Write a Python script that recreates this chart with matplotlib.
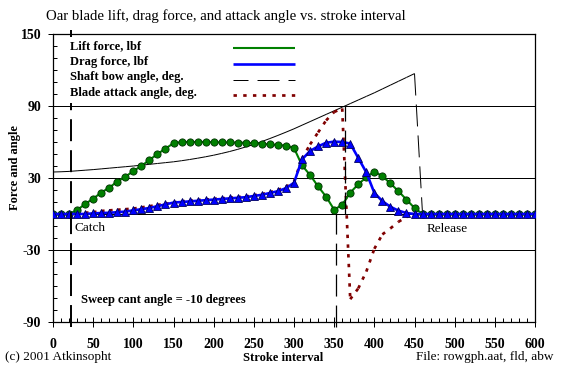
import numpy as np
import matplotlib
matplotlib.use("Agg")
import matplotlib.pyplot as plt
from matplotlib.collections import LineCollection
from matplotlib.lines import Line2D
from matplotlib.patches import Rectangle
from matplotlib.ticker import MultipleLocator, FixedLocator

plt.rcParams['font.family'] = ['Liberation Serif', 'DejaVu Serif']
plt.rcParams['lines.scale_dashes'] = False
plt.rcParams['axes.unicode_minus'] = False

# stroke interval, every 10 units
stroke = np.arange(0, 610, 10)

lift = [0, 0, 0, 3.3, 8.3, 12.8, 17.8, 22, 27, 31,
        35.8, 40, 45, 50, 54.5, 59, 60, 60, 60, 60,
        59.8, 59.7, 59.6, 59.5, 59.3, 59, 58.5, 58, 57.5, 57,
        55, 40.5, 32.5, 23, 14.4, 3.6, 7.6, 17.8, 24.8, 30.6,
        35.4, 31.5, 25.5, 19, 12, 5, 0, 0, 0, 0,
        0, 0, 0, 0, 0, 0, 0, 0, 0, 0, 0]

drag = [0, 0, 0, 0, 0, 0.5, 0.8, 1, 1.5, 2,
        3, 4, 5, 6.5, 8, 9.5, 10, 10.5, 11, 11.5,
        12, 12.5, 13, 13.5, 14, 15, 16, 17.5, 19, 21.5,
        26, 45.5, 52.5, 56.3, 59.4, 60.3, 60, 58.7, 46.7, 34.7,
        17.6, 10.7, 6, 2.8, 0.8, 0, 0, 0, 0, 0,
        0, 0, 0, 0, 0, 0, 0, 0, 0, 0, 0]

shaft_bow = [35.0, 35.2, 35.5, 36.0, 36.5, 37.0, 37.6, 38.2, 38.8, 39.4,
             40.0, 40.7, 41.4, 42.1, 42.8, 43.5, 44.4, 45.4, 46.5, 47.7,
             49.0, 50.5, 52.1, 53.9, 55.9, 58.0, 60.4, 62.9, 65.5, 68.2,
             71.0, 74.0, 77.0, 80.0, 83.0, 86.0, 89.0, 92.0, 95.0, 98.0,
             101.0, 104.2, 107.4, 110.6, 113.8, 117.0, 0, 0, 0, 0,
             0, 0, 0, 0, 0, 0, 0, 0, 0, 0, 0]

attack = [0, 0, 0, 0.5, 1, 1.5, 2.5, 3, 3.5, 4,
          4.5, 5.5, 6.5, 7.5, 8.5, 9.5, 10.5, 11, 11.5, 12,
          12.5, 13, 13.5, 14, 14.5, 15.5, 16.5, 18, 20, 22.5,
          27, 46, 58, 68, 78, 85, 88, -71, -62, -48,
          -29, -17, -12, -6.5, -2.5, 0, 0, 0, 0, 0,
          0, 0, 0, 0, 0, 0, 0, 0, 0, 0, 0]

# dashed marker lines (catch and mid-stroke)
mark_x = [22, 364, 352]
mark_top = [153, 90, 0]
mark_bottom = [-94, 0, -94]
mark_width = [1.4, 0.9, 0.9]

y_ticks = [-90, -30, 30, 90, 150]

labels = ['Lift force, lbf', 'Drag force, lbf',
          'Shaft bow angle, deg.', 'Blade attack angle, deg.']

black_dash = (0, (15.8, 6.5))
red_dash = (0, (2.45, 4.55))


def seg_line(ax, x, y, **kw):
    # one segment per pair of points, so the dash pattern restarts each time
    pts = np.column_stack([x, y])
    segs = np.stack([pts[:-1], pts[1:]], axis=1)
    lc = LineCollection(segs, **kw)
    ax.add_collection(lc)
    return lc


fig = plt.figure(figsize=(5.73, 3.68), dpi=100)
ax = fig.add_axes([53 / 573, 1 - 322 / 368, 482 / 573, 288 / 368])

ax.set_xlim(0, 600)
ax.set_ylim(-90, 150)

seg_line(ax, stroke, shaft_bow, colors='black', linewidths=0.72,
         linestyles=[black_dash], zorder=1)
seg_line(ax, stroke, attack, colors='#800000', linewidths=1.95,
         linestyles=[red_dash], capstyle='butt', zorder=2)
ax.plot(stroke, lift, color='#008000', lw=1.5, marker='o', ms=5.2,
        mfc='#008000', mec='#003000', mew=0.6, zorder=3)
ax.plot(stroke, drag, color='#0000ff', lw=1.9, marker='^', ms=5.6,
        mfc='#0000ff', mec='#000060', mew=0.6, zorder=3.5)

ax.vlines(mark_x, mark_bottom, mark_top, colors='black', linewidths=mark_width,
          linestyles=[black_dash], zorder=4, clip_on=False)

ax.axhline(0, color='black', lw=0.72, zorder=0.5)
ax.yaxis.grid(True, which='major', color='black', lw=0.72, zorder=0.5)
ax.set_axisbelow(True)

ax.xaxis.set_major_locator(MultipleLocator(50))
ax.xaxis.set_minor_locator(MultipleLocator(10))
ax.yaxis.set_major_locator(FixedLocator(y_ticks))
ax.yaxis.set_minor_locator(MultipleLocator(10))
ax.tick_params(which='major', direction='inout', length=7, width=0.72,
               labelsize=10, pad=5)
ax.tick_params(axis='x', which='major', pad=8)
ax.tick_params(which='minor', direction='in', length=3, width=0.72)
for t in ax.get_xticklabels() + ax.get_yticklabels():
    t.set_fontweight('bold')
for s in ax.spines.values():
    s.set_linewidth(0.9)

# legend drawn by hand: text on the left, sample line on the right
ax.add_patch(Rectangle(((66 - 53) / 482, (322 - 103) / 288), 235 / 482, 66 / 288,
                       transform=ax.transAxes, facecolor='white',
                       edgecolor='none', zorder=5))
text_y = [49, 64.5, 80, 96]
line_y = [47.5, 64, 80, 94.5]
styles = [dict(color='#008000', lw=1.5, ls='-'),
          dict(color='#0000ff', lw=1.9, ls='-'),
          dict(color='black', lw=0.72, ls=(5, (15.8, 6.5))),
          dict(color='#800000', lw=1.95, ls=(0, (2.45, 4.55)))]
for lab, ty, ly, st in zip(labels, text_y, line_y, styles):
    ax.text((70 - 53) / 482, (322 - ty) / 288, lab, transform=ax.transAxes,
            fontsize=9, fontweight='bold', va='baseline', zorder=6)
    ax.add_line(Line2D([(233 - 53) / 482, (295 - 53) / 482],
                       [(322 - ly) / 288] * 2, transform=ax.transAxes,
                       solid_capstyle='butt', dash_capstyle='butt',
                       zorder=6, **st))

ax.text(27, -11.5, 'Catch', fontsize=9.5, va='center')
ax.text(465, -12.5, 'Release', fontsize=9.5, va='center')
ax.text(35, -72, 'Sweep cant angle = -10 degrees', fontsize=9,
        fontweight='bold', va='center')

fig.text(46 / 573, 1 - 16 / 368,
         'Oar blade lift, drag force, and attack angle vs. stroke interval',
         fontsize=10.6, va='center')
fig.text(15 / 573, 1 - 167 / 368, 'Force and angle', fontsize=9,
         fontweight='bold', rotation=90, va='center', ha='center')
fig.text(283 / 573, 1 - 358 / 368, 'Stroke interval', fontsize=9,
         fontweight='bold', va='center', ha='center')
fig.text(5 / 573, 1 - 357 / 368, '(c) 2001 Atkinsopht', fontsize=9.5, va='center')
fig.text(416 / 573, 1 - 357 / 368, 'File: rowgph.aat, fld, abw', fontsize=9.5,
         va='center')

fig.savefig('out.png', dpi=100)
